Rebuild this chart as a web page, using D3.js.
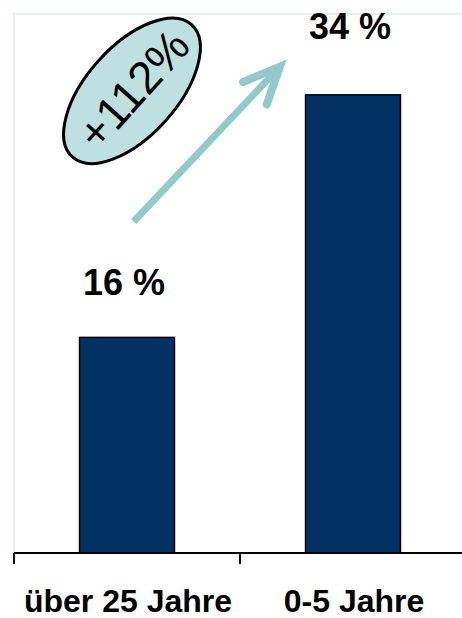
<!DOCTYPE html>
<html>
<head>
<meta charset="utf-8">
<script src="https://cdn.jsdelivr.net/npm/d3@7"></script>
<style>
  html, body { margin: 0; padding: 0; background: #fff; }
  svg { display: block; }
</style>
</head>
<body>
<svg id="chart" width="462" height="618"></svg>
<script>
// Share by age group
const categories = ["über 25 Jahre", "0-5 Jahre"];
const values = [16, 34];
const valueLabels = ["16 %", "34 %"];
const growthLabel = "+112%";

const W = 462, H = 618;
const plot = { left: 14, right: 466, top: 14, bottom: 553 };

const svg = d3.select("#chart");
const font = "'Liberation Sans', Arial, Helvetica, sans-serif";

const x = d3.scaleBand().domain(categories).range([plot.left, plot.right]).padding(0);
const y = d3.scaleLinear().domain([0, 40]).range([plot.bottom, plot.top]);

const barW = x.bandwidth() * 0.42;

// faint plot-area frame
svg.append("rect")
  .attr("x", plot.left).attr("y", plot.top)
  .attr("width", plot.right - plot.left).attr("height", plot.bottom - plot.top)
  .attr("fill", "none").attr("stroke", "#e4f1f1").attr("stroke-width", 2);

// bars
svg.selectAll("rect.bar").data(values).join("rect")
  .attr("class", "bar")
  .attr("x", (d, i) => x(categories[i]) + (x.bandwidth() - barW) / 2)
  .attr("y", d => y(d))
  .attr("width", barW)
  .attr("height", d => y(0) - y(d))
  .attr("fill", "#023263")
  .attr("stroke", "#000").attr("stroke-width", 1.5);

// category axis with ticks at band boundaries
const axisG = svg.append("g").attr("transform", `translate(0,${plot.bottom})`);
axisG.append("line")
  .attr("x1", plot.left).attr("x2", plot.right)
  .attr("stroke", "#000").attr("stroke-width", 2);
axisG.selectAll("line.tick").data(categories.concat([null])).join("line")
  .attr("class", "tick")
  .attr("x1", d => d === null ? plot.right : x(d))
  .attr("x2", d => d === null ? plot.right : x(d))
  .attr("y1", 0).attr("y2", 11)
  .attr("stroke", "#000").attr("stroke-width", 2);
axisG.selectAll("text").data(categories).join("text")
  .attr("x", d => x(d) + x.bandwidth() / 2 + 1)
  .attr("y", 59)
  .attr("text-anchor", "middle")
  .attr("font-family", font).attr("font-weight", "bold").attr("font-size", 32)
  .attr("fill", "#000")
  .text(d => d);

// value labels above the bars
const labelLift = [42, 56];
svg.selectAll("text.val").data(values).join("text")
  .attr("class", "val")
  .attr("x", (d, i) => x(categories[i]) + x.bandwidth() / 2 - 3)
  .attr("y", (d, i) => y(d) - labelLift[i])
  .attr("text-anchor", "middle")
  .attr("font-family", font).attr("font-weight", "bold").attr("font-size", 36)
  .attr("fill", "#000")
  .text((d, i) => valueLabels[i]);

// growth arrow from the first to the second bar
const arrowColor = "#93cac9";
const start = [x(categories[0]) + 0.53 * x.bandwidth(), y(24.6)];
const tip = [x(categories[1]) + 0.177 * x.bandwidth(), y(36.1)];
const ang = Math.atan2(tip[1] - start[1], tip[0] - start[0]);
svg.append("line")
  .attr("x1", start[0]).attr("y1", start[1])
  .attr("x2", tip[0] - 4 * Math.cos(ang)).attr("y2", tip[1] - 4 * Math.sin(ang))
  .attr("stroke", arrowColor).attr("stroke-width", 7);
const armLen = 40, spread = 24 * Math.PI / 180;
const arm = s => [tip[0] - armLen * Math.cos(ang + s), tip[1] - armLen * Math.sin(ang + s)];
const a1 = arm(spread), a2 = arm(-spread);
svg.append("path")
  .attr("d", d3.line()([a1, tip, a2]))
  .attr("fill", "none").attr("stroke", arrowColor)
  .attr("stroke-width", 8).attr("stroke-linecap", "round").attr("stroke-linejoin", "miter")
  .attr("stroke-miterlimit", 10);

// growth bubble
const cx = x(categories[0]) + 0.522 * x.bandwidth();
const cy = y(34.3);
const bubble = svg.append("g").attr("transform", `translate(${cx},${cy}) rotate(-48)`);
bubble.append("ellipse")
  .attr("rx", 89).attr("ry", 45)
  .attr("fill", "#bfe0e0").attr("stroke", "#000").attr("stroke-width", 3);
bubble.append("text")
  .attr("x", 2).attr("y", 16)
  .attr("text-anchor", "middle")
  .attr("font-family", font).attr("font-size", 46)
  .attr("fill", "#000")
  .text(growthLabel);
</script>
</body>
</html>
